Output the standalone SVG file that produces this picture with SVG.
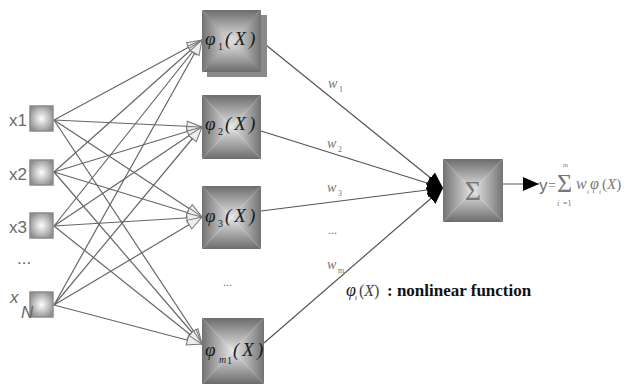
<svg xmlns="http://www.w3.org/2000/svg" width="632" height="385" viewBox="0 0 632 385">
<style>
.lbl{font-family:"Liberation Sans",Arial,sans-serif;font-size:17px;fill:#6a6a6a}
.ser{font-family:"Liberation Serif","DejaVu Serif",serif}
.phi{font-family:"Liberation Serif","Times New Roman",serif;font-style:italic;font-size:19px;fill:#1a1a1a}
.sub{font-family:"Liberation Serif","Times New Roman",serif;font-size:10px;fill:#1a1a1a}
.w{font-family:"Liberation Serif","Times New Roman",serif;font-style:italic;font-size:14px;fill:#777}
.ws{font-family:"Liberation Serif","Times New Roman",serif;font-size:8px;fill:#777}
.gray{font-family:"Liberation Serif","Times New Roman",serif;fill:#777}
.in{stroke:#666;stroke-width:1.2;fill:none;marker-end:url(#hollow)}
.out{stroke:#555;stroke-width:1.2;fill:none;marker-end:url(#solid)}
</style>
<defs>
<linearGradient id="gT" x1="0" y1="0" x2="0" y2="1"><stop offset="0" stop-color="#6c6c6c"/><stop offset="1" stop-color="#e6e6e6"/></linearGradient>
<linearGradient id="gB" x1="0" y1="1" x2="0" y2="0"><stop offset="0" stop-color="#6c6c6c"/><stop offset="1" stop-color="#e6e6e6"/></linearGradient>
<linearGradient id="gL" x1="0" y1="0" x2="1" y2="0"><stop offset="0" stop-color="#727272"/><stop offset="1" stop-color="#e6e6e6"/></linearGradient>
<linearGradient id="gR" x1="1" y1="0" x2="0" y2="0"><stop offset="0" stop-color="#727272"/><stop offset="1" stop-color="#e6e6e6"/></linearGradient>
<radialGradient id="gIn" cx="0.5" cy="0.5" r="0.6"><stop offset="0" stop-color="#ffffff"/><stop offset="1" stop-color="#8a8a8a"/></radialGradient>
<marker id="hollow" markerUnits="userSpaceOnUse" markerWidth="18" markerHeight="14" refX="16" refY="6" orient="auto" viewBox="0 0 18 12">
<path d="M1,1 L16,6 L1,11 Z" fill="#eeeeee" stroke="#777" stroke-width="1"/>
</marker>
<marker id="solid" markerUnits="userSpaceOnUse" markerWidth="17" markerHeight="15" refX="16" refY="7" orient="auto" viewBox="0 0 17 14">
<path d="M0,0 L16,7 L0,14 Z" fill="#000"/>
</marker>
</defs>
<rect width="632" height="385" fill="#fff"/>

<g id="connectors">
<line class="in" x1="54" y1="120" x2="202" y2="40"/>
<line class="in" x1="54" y1="120" x2="202" y2="127"/>
<line class="in" x1="54" y1="120" x2="202" y2="217"/>
<line class="in" x1="54" y1="120" x2="202" y2="344"/>
<line class="in" x1="54" y1="172" x2="202" y2="40"/>
<line class="in" x1="54" y1="172" x2="202" y2="127"/>
<line class="in" x1="54" y1="172" x2="202" y2="217"/>
<line class="in" x1="54" y1="172" x2="202" y2="344"/>
<line class="in" x1="54" y1="226" x2="202" y2="40"/>
<line class="in" x1="54" y1="226" x2="202" y2="127"/>
<line class="in" x1="54" y1="226" x2="202" y2="217"/>
<line class="in" x1="54" y1="226" x2="202" y2="344"/>
<line class="in" x1="54" y1="305" x2="202" y2="40"/>
<line class="in" x1="54" y1="305" x2="202" y2="127"/>
<line class="in" x1="54" y1="305" x2="202" y2="217"/>
<line class="in" x1="54" y1="305" x2="202" y2="344"/>
<line class="out" x1="261" y1="41" x2="443" y2="188"/>
<line class="out" x1="261" y1="131" x2="443" y2="188"/>
<line class="out" x1="261" y1="211" x2="443" y2="188"/>
<line class="out" x1="264" y1="343" x2="443" y2="188"/>
<line class="out" x1="503" y1="184" x2="539" y2="184"/>
</g>

<g id="x1"><rect x="30" y="106" width="23" height="25" fill="url(#gIn)" stroke="#8c8c8c" stroke-width="1.5"/><text class="lbl" x="9" y="126">x1</text></g>
<g id="x2"><rect x="30" y="160" width="23" height="25" fill="url(#gIn)" stroke="#8c8c8c" stroke-width="1.5"/><text class="lbl" x="9" y="180">x2</text></g>
<g id="x3"><rect x="30" y="213" width="23" height="25" fill="url(#gIn)" stroke="#8c8c8c" stroke-width="1.5"/><text class="lbl" x="9" y="233">x3</text></g>
<text class="lbl" x="17" y="264" font-size="12">...</text>
<g id="xN"><rect x="30" y="292" width="23" height="25" fill="url(#gIn)" stroke="#8c8c8c" stroke-width="1.5"/><text class="lbl" x="10" y="303" font-style="italic" font-size="19">x</text><text class="lbl" x="21" y="318" font-style="italic" font-size="13">N</text></g>

<g id="h1">
<rect x="207" y="15" width="60" height="62" fill="#8a8a8a"/>
<polygon points="202,10 261,10 231.5,41" fill="url(#gT)"/>
<polygon points="202,72 261,72 231.5,41" fill="url(#gB)"/>
<polygon points="202,10 202,72 231.5,41" fill="url(#gL)"/>
<polygon points="261,10 261,72 231.5,41" fill="url(#gR)"/>
<text class="phi" x="205" y="45">φ</text><text class="sub" x="218" y="50">1</text><text class="phi" x="225" y="45">(<tspan dx="3">X</tspan><tspan dx="3">)</tspan></text>
</g>
<g id="h2">
<polygon points="202,95 261,95 231.5,127" fill="url(#gT)"/>
<polygon points="202,159 261,159 231.5,127" fill="url(#gB)"/>
<polygon points="202,95 202,159 231.5,127" fill="url(#gL)"/>
<polygon points="261,95 261,159 231.5,127" fill="url(#gR)"/>
<text class="phi" x="205" y="130">φ</text><text class="sub" x="218" y="135">2</text><text class="phi" x="225" y="130">(<tspan dx="3">X</tspan><tspan dx="3">)</tspan></text>
</g>
<g id="h3">
<polygon points="202,186 261,186 231.5,217.5" fill="url(#gT)"/>
<polygon points="202,249 261,249 231.5,217.5" fill="url(#gB)"/>
<polygon points="202,186 202,249 231.5,217.5" fill="url(#gL)"/>
<polygon points="261,186 261,249 231.5,217.5" fill="url(#gR)"/>
<text class="phi" x="205" y="222">φ</text><text class="sub" x="218" y="227">3</text><text class="phi" x="225" y="222">(<tspan dx="3">X</tspan><tspan dx="3">)</tspan></text>
</g>
<text class="gray" x="223" y="286" font-size="12">...</text>
<g id="hm">
<polygon points="202,318 264,318 233,351" fill="url(#gT)"/>
<polygon points="202,384 264,384 233,351" fill="url(#gB)"/>
<polygon points="202,318 202,384 233,351" fill="url(#gL)"/>
<polygon points="264,318 264,384 233,351" fill="url(#gR)"/>
<text class="phi" x="205" y="356">φ</text><text class="sub" x="219" y="363" font-style="italic">m</text><text class="sub" x="227" y="364" font-size="7">1</text><text class="phi" x="233" y="356">(<tspan dx="3">X</tspan><tspan dx="3">)</tspan></text>
</g>

<g id="sum">
<polygon points="443,159 503,159 473,190.5" fill="url(#gT)"/>
<polygon points="443,222 503,222 473,190.5" fill="url(#gB)"/>
<polygon points="443,159 443,222 473,190.5" fill="url(#gL)"/>
<polygon points="503,159 503,222 473,190.5" fill="url(#gR)"/>
<text class="gray" x="473" y="200" font-size="28" text-anchor="middle" fill="#8a8a8a">Σ</text>
</g>

<g id="weights">
<text class="w" x="328" y="88">w</text><text class="ws" x="339" y="92">1</text>
<text class="w" x="327" y="148">w</text><text class="ws" x="338" y="152">2</text>
<text class="w" x="327" y="192">w</text><text class="ws" x="338" y="196">3</text>
<text class="gray" x="328" y="234" font-size="12">...</text>
<text class="w" x="327" y="269">w</text><text class="ws" x="338" y="273">m</text>
</g>

<g id="output">
<text class="lbl" x="539" y="191" font-size="17" fill="#666">y</text>
<text class="gray" x="548" y="190" font-size="14">=</text>
<text class="gray" x="557" y="192" font-size="26">Σ</text>
<text class="gray" x="563" y="167" font-size="7" font-style="italic">m</text>
<text class="gray" x="557" y="206" font-size="8" font-style="italic">i</text><text class="gray" x="563" y="206" font-size="8">=1</text>
<text class="gray" x="576" y="189" font-size="16" font-style="italic">w</text><text class="gray" x="587" y="194" font-size="7" font-style="italic">i</text>
<text class="gray" x="590" y="189" font-size="16" font-style="italic">φ</text><text class="gray" x="599" y="194" font-size="7" font-style="italic">i</text>
<text class="gray" x="602" y="189" font-size="15">(<tspan font-style="italic">X</tspan>)</text>
</g>

<g id="note">
<text class="ser" x="346" y="296" font-size="18" font-style="italic" fill="#222">φ</text>
<text class="ser" x="355" y="300" font-size="7" font-style="italic" fill="#222">i</text>
<text class="ser" x="359" y="296" font-size="16" fill="#444">(<tspan font-style="italic">X</tspan>)</text>
<text class="ser" x="387" y="296" font-size="17" font-weight="bold" fill="#111">: nonlinear function</text>
</g>
</svg>
